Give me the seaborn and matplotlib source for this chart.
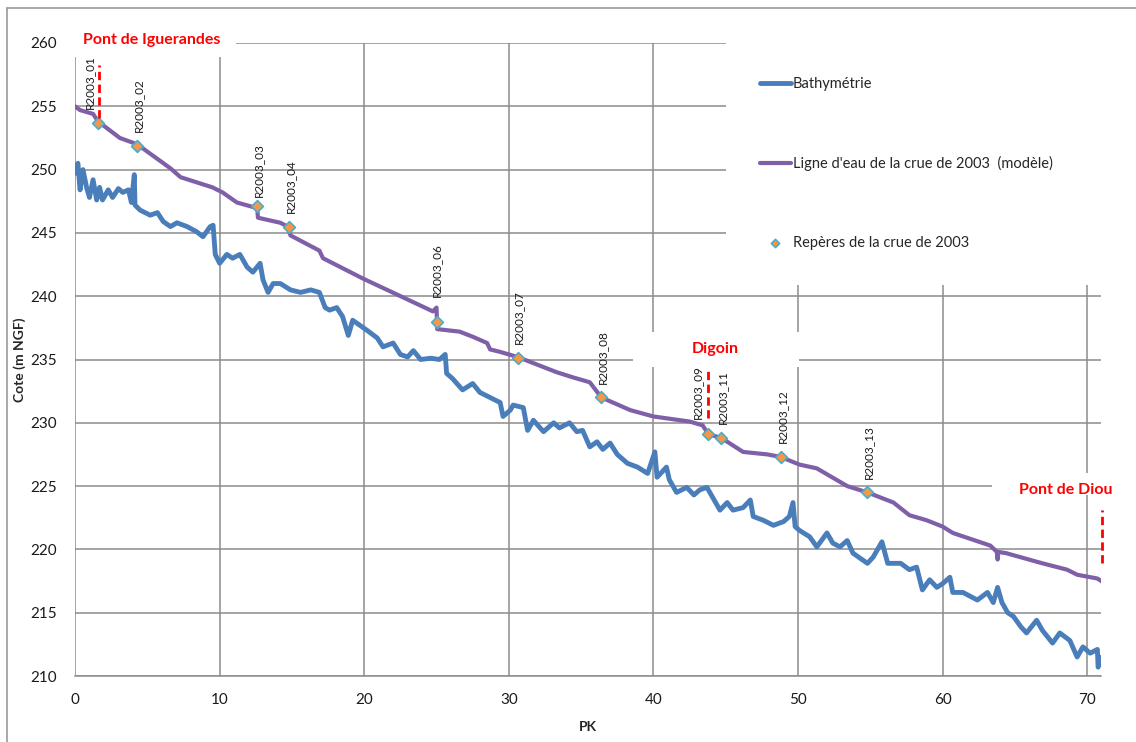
import numpy as np
import pandas as pd
import matplotlib
matplotlib.use("Agg")
import matplotlib.pyplot as plt
from matplotlib.patches import Rectangle
from matplotlib.lines import Line2D
import seaborn as sns

# ---------------- data ----------------
# Bathymetry (PK km, cote m NGF)
pk_bathy = [0.0, 0.2, 0.35, 0.55, 0.8, 1.0, 1.25, 1.5, 1.7, 1.9, 2.3, 2.6, 3.0, 3.3, 3.7, 3.9, 4.1, 4.15,
            4.5, 5.2, 5.7, 6.1, 6.6, 7.05, 7.75, 8.4, 8.85, 9.35, 9.55, 9.7, 10.0, 10.5, 10.9, 11.4, 11.9,
            12.3, 12.8, 13.0, 13.35, 13.7, 14.2, 14.9, 15.6, 16.3, 16.9, 17.3, 17.6, 18.1, 18.5, 18.9,
            19.2, 19.7, 20.2, 20.9, 21.3, 22.0, 22.5, 23.0, 23.4, 23.9, 24.6, 25.2, 25.6, 25.7, 26.1,
            26.8, 27.5, 28.0, 28.7, 29.4, 29.6, 30.1, 30.3, 31.0, 31.3, 31.7, 32.4, 33.1, 33.5, 34.2,
            34.7, 35.1, 35.6, 36.1, 36.5, 37.0, 37.5, 38.2, 38.9, 39.6, 40.1, 40.25, 40.9, 41.1, 41.6,
            42.3, 42.8, 43.2, 43.7, 44.1, 44.6, 45.1, 45.5, 46.2, 46.7, 46.9, 47.6, 48.3, 49.0, 49.4,
            49.65, 49.8, 50.1, 50.8, 51.3, 52.0, 52.4, 52.9, 53.4, 53.8, 54.8, 55.2, 55.8, 56.2, 57.1,
            57.7, 58.2, 58.6, 59.1, 59.6, 60.0, 60.5, 60.7, 61.4, 62.4, 63.1, 63.5, 63.8, 64.1, 64.5,
            64.9, 65.4, 65.8, 66.5, 66.9, 67.6, 68.1, 68.8, 69.3, 69.7, 70.2, 70.7, 70.75, 71.0]
z_bathy = [249.7, 250.5, 248.4, 250.0, 248.6, 247.8, 249.2, 247.6, 248.6, 247.6, 248.4, 247.8, 248.5, 248.2,
           248.4, 247.4, 249.6, 247.2, 246.8, 246.4, 246.6, 245.9, 245.5, 245.8, 245.5, 245.1, 244.7,
           245.5, 245.6, 243.3, 242.6, 243.3, 243.0, 243.3, 242.3, 241.9, 242.6, 241.3, 240.3, 241.0,
           241.0, 240.5, 240.3, 240.5, 240.3, 239.1, 238.9, 239.1, 238.4, 236.9, 238.1, 237.7, 237.3,
           236.7, 236.0, 236.3, 235.4, 235.2, 235.7, 235.0, 235.1, 235.0, 235.4, 233.9, 233.5, 232.6,
           233.1, 232.4, 232.0, 231.6, 230.5, 231.0, 231.4, 231.2, 229.4, 230.2, 229.3, 230.0, 229.6,
           230.0, 229.3, 229.4, 228.1, 228.5, 227.9, 228.4, 227.5, 226.8, 226.5, 226.0, 227.7, 225.7,
           226.5, 225.5, 224.5, 224.9, 224.3, 224.7, 224.9, 224.1, 223.1, 223.7, 223.1, 223.3, 223.9,
           222.6, 222.3, 221.9, 222.2, 222.6, 223.7, 221.8, 221.5, 221.0, 220.2, 221.3, 220.5, 220.2,
           220.7, 219.7, 218.9, 219.4, 220.6, 218.9, 218.9, 218.4, 218.6, 216.8, 217.6, 217.0, 217.3,
           217.8, 216.6, 216.6, 216.0, 216.6, 215.8, 217.0, 215.8, 215.0, 214.7, 213.9, 213.4, 214.4,
           213.6, 212.6, 213.4, 212.8, 211.5, 212.3, 211.8, 212.1, 210.7, 211.5]

# Water line of the 2003 flood (model)
pk_water = [0.0, 0.35, 1.25, 1.6, 3.1, 4.3, 6.6, 7.3, 9.5, 10.2, 11.2, 12.45, 12.6, 12.65, 14.2, 14.7,
            14.9, 16.9, 17.15, 19.9, 22.7, 24.75, 25.0, 25.05, 26.6, 27.5, 28.5, 28.7, 29.4, 30.6,
            33.3, 34.4, 35.6, 36.4, 38.4, 40.0, 42.5, 43.4, 43.8, 44.7, 46.2, 47.9, 48.8, 50.1, 51.3,
            53.4, 54.8, 56.6, 57.7, 58.9, 60.0, 60.7, 63.3, 63.75, 63.8, 63.85, 64.4, 66.9, 68.6,
            69.3, 70.7, 71.1]
z_water = [255.0, 254.7, 254.4, 253.8, 252.5, 252.0, 250.1, 249.4, 248.6, 248.2, 247.4, 247.0, 247.0,
           246.2, 245.8, 245.5, 244.8, 243.6, 243.0, 241.4, 239.9, 238.8, 239.1, 237.4, 237.2, 236.8,
           236.3, 235.8, 235.6, 235.2, 234.0, 233.6, 233.2, 232.0, 231.0, 230.5, 230.1, 229.8, 229.1,
           228.8, 227.7, 227.5, 227.3, 226.7, 226.4, 225.0, 224.5, 223.7, 222.7, 222.3, 221.8, 221.3,
           220.3, 219.8, 219.2, 219.8, 219.7, 218.9, 218.4, 218.0, 217.7, 217.4]

# Flood marks of 2003
mark_names = ["R2003_01", "R2003_02", "R2003_03", "R2003_04", "R2003_06", "R2003_07",
              "R2003_08", "R2003_09", "R2003_11", "R2003_12", "R2003_13"]
mark_pk = [1.6, 4.3, 12.6, 14.8, 25.0, 30.6, 36.4, 43.8, 44.7, 48.8, 54.8]
mark_z = [253.7, 251.9, 247.1, 245.5, 238.0, 235.15, 232.0, 229.1, 228.8, 227.3, 224.5]

# Landmarks (bridges / towns)
site_names = ["Pont de Iguerandes", "Digoin", "Pont de Diou"]
site_pk = [1.65, 43.8, 71.0]

x_ticks = [0, 10, 20, 30, 40, 50, 60, 70]
y_ticks = [210, 215, 220, 225, 230, 235, 240, 245, 250, 255, 260]

# ---------------- style ----------------
sns.set_theme(style="white")
plt.rcParams["font.family"] = ["Lato", "DejaVu Sans"]

C_BATHY = "#4A7EBB"
C_WATER = "#7F60A8"
C_MARK_FACE = "#F79646"
C_MARK_EDGE = "#4BACC6"
C_GRID = "#8C8C8C"
C_RED = "#FF0000"

fig = plt.figure(figsize=(11.36, 7.42), dpi=100)
ax = fig.add_axes([75 / 1136, 1 - 676 / 742, (1101 - 75) / 1136, (676 - 43) / 742])

bathy = pd.DataFrame({"PK": pk_bathy, "Cote": z_bathy})
water = pd.DataFrame({"PK": pk_water, "Cote": z_water})
marks = pd.DataFrame({"PK": mark_pk, "Cote": mark_z, "nom": mark_names})

sns.lineplot(data=bathy, x="PK", y="Cote", ax=ax, color=C_BATHY, lw=3.5,
             estimator=None, sort=False, label="Bathymétrie", zorder=3)
sns.lineplot(data=water, x="PK", y="Cote", ax=ax, color=C_WATER, lw=3.0,
             estimator=None, sort=False, label="Ligne d'eau de la crue de 2003  (modèle)", zorder=4)
sns.scatterplot(data=marks, x="PK", y="Cote", ax=ax, marker="D", s=36,
                color=C_MARK_FACE, edgecolor=C_MARK_EDGE, linewidth=1.2,
                label="Repères de la crue de 2003", zorder=5)

ax.set_xlim(0, 70.95)
ax.set_ylim(210, 260)
ax.set_xticks(x_ticks)
ax.set_yticks(y_ticks)
ax.set_axisbelow(True)
ax.grid(True, color=C_GRID, lw=1.1)
for side in ["top", "right", "left"]:
    ax.spines[side].set_visible(False)
ax.spines["bottom"].set_color(C_GRID)
ax.spines["bottom"].set_linewidth(1.1)
ax.tick_params(axis="both", length=0, labelsize=11, colors="#1a1a1a")
ax.tick_params(axis="y", pad=13)
ax.tick_params(axis="x", pad=12)
ax.set_xlabel("PK", fontsize=10, fontweight="bold", labelpad=10)
ax.set_ylabel("Cote (m NGF)", fontsize=10, fontweight="bold", labelpad=3)

# white label / legend areas hiding the gridlines (as in the Excel chart)
def white_box(x0, x1, y0, y1):
    ax.add_patch(Rectangle((x0, y0), x1 - x0, y1 - y0, facecolor="white",
                           edgecolor="none", zorder=1, clip_on=False))

white_box(45.0, 71.0, 240.9, 260.6)   # legend area
white_box(38.6, 50.1, 234.4, 237.2)   # Digoin
white_box(-0.5, 11.1, 258.9, 261.5)   # Pont de Iguerandes
white_box(63.4, 71.0, 224.3, 226.0)   # Pont de Diou

# flood mark labels
label_offsets = {"R2003_01": (-6, 10), "R2003_06": (0, 18), "R2003_09": (-8, 11), "R2003_03": (1, 7)}
for name, x, y in zip(mark_names, mark_pk, mark_z):
    dx, dy = label_offsets.get(name, (1, 10))
    ax.annotate(name, (x, y), xytext=(dx, dy), textcoords="offset points",
                rotation=90, ha="center", va="bottom", fontsize=8.5, color="#1a1a1a", zorder=6)

# landmarks: dashed red markers + red bold names
site_spans = [(254.1, 258.3), (230.4, 234.4), (218.9, 223.1)]
site_text_pos = [(5.3, 260.2), (44.3, 235.8), (68.5, 224.7)]
for name, x, (y0, y1), (tx, ty) in zip(site_names, site_pk, site_spans, site_text_pos):
    ax.plot([x, x], [y0, y1], color=C_RED, lw=2.0, ls=(0, (3, 1.6)), zorder=6, clip_on=False)
    ax.text(tx, ty, name, color=C_RED, fontsize=11.5, fontweight="bold",
            ha="center", va="center", zorder=7, clip_on=False)

leg = ax.legend(loc="upper left", bbox_to_anchor=(0.655, 0.967), frameon=False,
                fontsize=10.5, labelspacing=4.45, handlelength=2.1, handletextpad=0.15,
                markerscale=0.7)
leg.set_zorder(8)

# outer chart-area border
fig.add_artist(Line2D([7 / 1136, 7 / 1136], [0, 1 - 8 / 742], color="#9a9a9a", lw=1.2))
fig.add_artist(Line2D([7 / 1136, 1], [1 - 8 / 742, 1 - 8 / 742], color="#9a9a9a", lw=1.2))

fig.savefig("out.png", dpi=100)
